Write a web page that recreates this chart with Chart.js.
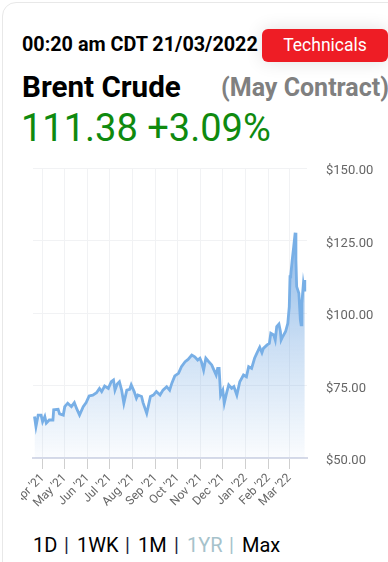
<!DOCTYPE html>
<html>
<head>
<meta charset="utf-8">
<script src="https://cdn.jsdelivr.net/npm/chart.js@4/dist/chart.umd.min.js"></script>
<style>
  html,body{margin:0;padding:0;background:#fff;overflow:hidden;width:388px;height:562px;font-family:Roboto,"Noto Sans",sans-serif;}
  .card{position:absolute;left:2px;top:2px;width:420px;height:620px;border:1px solid #e8e8e8;border-radius:14px;}
  .time{position:absolute;left:22px;top:33px;font-size:19.8px;font-weight:700;color:#000;line-height:24px;white-space:nowrap;}
  .btn{position:absolute;left:262px;top:29px;width:126px;height:33px;background:#ee1d25;border-radius:6px;color:#fff;font-size:17.5px;line-height:33px;text-align:center;box-shadow:0 0 18px rgba(0,0,0,0.12);}
  .name{position:absolute;left:22px;top:69px;font-size:29.6px;font-weight:700;color:#000;line-height:36px;white-space:nowrap;}
  .contract{position:absolute;right:-1px;top:70px;font-size:25px;font-weight:700;color:#808080;line-height:36px;white-space:nowrap;}
  .price{position:absolute;left:21px;top:106px;font-size:38px;color:#0f8a0f;line-height:44px;white-space:nowrap;}
  .nav{position:absolute;top:532px;font-size:20px;color:#000;line-height:26px;white-space:nowrap;}
  .sep{color:#1c2340;}
  .dim{color:#a6c2cb;}
  #c{position:absolute;left:21px;top:150px;}
</style>
</head>
<body>
<div class="card"></div>
<div class="time">00:20 am CDT 21/03/2022</div>
<div class="btn">Technicals</div>
<div class="name">Brent Crude</div>
<div class="contract">(May Contract)</div>
<div class="price">111.38 +3.09%</div>
<canvas id="c" width="367" height="370" style="width:367px;height:370px"></canvas>
<div class="nav" style="left:33px">1D</div>
<div class="nav sep" style="left:64px">|</div>
<div class="nav" style="left:77px">1WK</div>
<div class="nav sep" style="left:125px">|</div>
<div class="nav" style="left:138px">1M</div>
<div class="nav sep" style="left:174px">|</div>
<div class="nav dim" style="left:187px">1YR</div>
<div class="nav dim" style="left:229px">|</div>
<div class="nav" style="left:242px">Max</div>
<script>
// Month ticks: days since 1 Apr 2021
const monthTickDays = [0, 30, 61, 91, 122, 153, 183, 214, 244, 275, 306, 334];
const monthTickLabels = ["Apr '21", "May '21", "Jun '21", "Jul '21", "Aug '21", "Sep '21", "Oct '21", "Nov '21", "Dec '21", "Jan '22", "Feb '22", "Mar '22"];
const priceTicks = [50, 75, 100, 125, 150];

// Series: days since 1 Apr 2021, and Brent price (USD)
const days = [-11, -9, -6, -2, 0, 3, 5, 9, 14, 15, 21, 23, 28, 30, 34, 39, 43, 46, 50, 55, 59, 63, 68, 73, 77, 80, 84, 89, 93, 96, 98, 101, 104, 107, 110, 114, 118, 120, 124, 127, 129, 134, 136, 141, 143, 146, 150, 154, 159, 163, 168, 172, 175, 179, 184, 188, 193, 197, 202, 206, 210, 213, 215, 218, 221, 225, 229, 231, 235, 237, 239, 241, 244, 246, 249, 252, 256, 259, 263, 267, 272, 276, 279, 283, 287, 290, 294, 297, 299, 304, 307, 309, 313, 315, 317, 320, 322, 323, 325, 329, 332, 334, 335, 336, 338, 340, 342, 343, 344, 347, 349, 350, 351, 353, 354, 355];
const prices = [64.3, 60.8, 64.8, 64.8, 62.5, 64.3, 62.0, 63.1, 63.1, 66.6, 66.8, 65.2, 64.8, 67.7, 68.9, 67.7, 69.1, 67.1, 64.8, 67.7, 69.1, 71.4, 71.7, 72.5, 74.0, 72.9, 74.8, 74.0, 76.3, 76.9, 73.4, 75.5, 76.3, 73.4, 68.9, 73.4, 73.7, 75.2, 72.9, 70.6, 71.7, 71.2, 69.1, 65.4, 67.7, 71.2, 71.7, 72.9, 71.7, 73.4, 74.6, 73.4, 75.8, 78.3, 79.2, 81.5, 83.2, 84.0, 85.5, 84.9, 83.8, 84.4, 83.2, 80.3, 84.4, 83.2, 82.1, 80.9, 78.6, 80.9, 80.9, 71.7, 73.4, 68.9, 72.3, 75.2, 74.0, 74.6, 71.7, 76.3, 78.6, 78.0, 81.5, 80.9, 84.4, 86.1, 88.2, 86.3, 87.8, 89.0, 89.5, 93.0, 92.4, 90.7, 95.3, 96.2, 93.6, 90.7, 91.8, 93.6, 96.4, 102.2, 112.5, 113.1, 118.3, 122.9, 127.7, 118.3, 109.1, 106.8, 97.6, 95.9, 103.3, 109.7, 107.9, 111.4];

const points = days.map((d, i) => ({ x: d, y: prices[i] }));

function fillGradient(context) {
  const chart = context.chart;
  const area = chart.chartArea;
  if (!area) return 'rgba(120,170,225,0.3)';
  const top = chart.scales.y.getPixelForValue(128);
  const g = chart.ctx.createLinearGradient(0, top, 0, area.bottom);
  g.addColorStop(0, 'rgba(110,165,225,0.78)');
  g.addColorStop(0.5, 'rgba(110,165,225,0.36)');
  g.addColorStop(1, 'rgba(110,165,225,0.03)');
  return g;
}

new Chart(document.getElementById('c'), {
  type: 'line',
  data: {
    datasets: [{
      data: points,
      borderColor: '#78afe6',
      borderWidth: 2.8,
      pointRadius: 0,
      tension: 0,
      fill: 'start',
      backgroundColor: fillGradient
    }]
  },
  options: {
    responsive: false,
    animation: false,
    layout: { padding: { left: 12, top: 18, right: 0, bottom: 0 } },
    plugins: { legend: { display: false }, tooltip: { enabled: false } },
    scales: {
      x: {
        type: 'linear',
        min: -13,
        max: 358,
        afterBuildTicks: s => { s.ticks = monthTickDays.map(v => ({ value: v })); },
        afterFit: s => { s.paddingLeft = 0; s.paddingRight = 0; s.paddingTop = 0; s.paddingBottom = 0; s.height = 62; },
        ticks: {
          autoSkip: false,
          minRotation: 45,
          maxRotation: 45,
          padding: 2,
          color: '#666',
          font: { family: 'Roboto', size: 12 },
          callback: (v, i) => monthTickLabels[i]
        },
        grid: { color: '#f1f2f4', tickColor: '#cfcfcf', tickLength: 11, drawTicks: true },
        border: { color: '#d6dae8', width: 2 }
      },
      y: {
        position: 'right',
        min: 50,
        max: 150,
        afterBuildTicks: s => { s.ticks = priceTicks.map(v => ({ value: v })); },
        afterFit: s => { s.width = 81; s.paddingTop = 0; s.paddingBottom = 0; s.paddingLeft = 0; s.paddingRight = 0; },
        ticks: {
          padding: 19,
          labelOffset: 3,
          color: '#666',
          font: { family: 'Roboto', size: 13 },
          callback: v => '$' + Number(v).toFixed(2)
        },
        grid: { color: '#f1f2f4', drawTicks: false },
        border: { display: false }
      }
    }
  }
});
</script>
</body>
</html>
